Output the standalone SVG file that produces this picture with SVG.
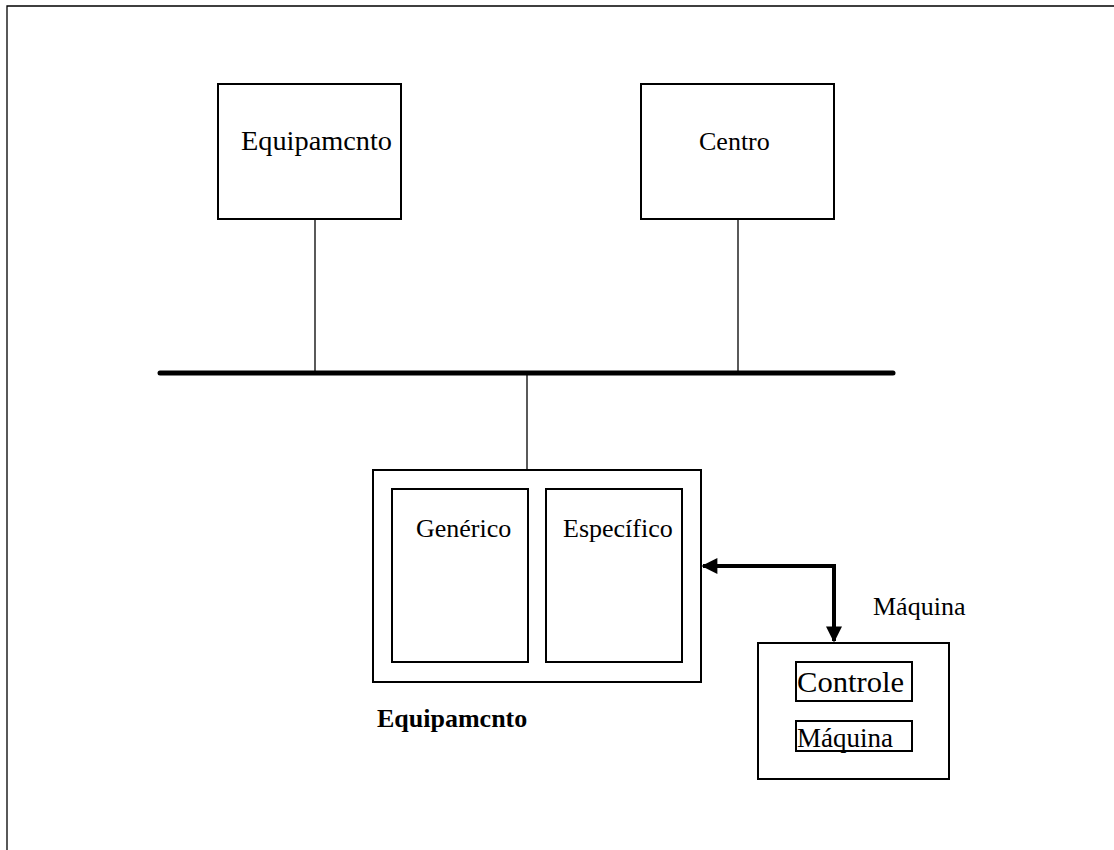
<svg xmlns="http://www.w3.org/2000/svg" width="1114" height="850" viewBox="0 0 1114 850">
<style>
.box{fill:#fff;stroke:#000;stroke-width:2}
.thin{stroke:#000;stroke-width:1.3;fill:none}
.t{font-family:"Liberation Serif","Times New Roman",serif;font-size:26px;fill:#000}
.b{font-weight:bold}
</style>
<defs>
<marker id="ah" viewBox="0 0 10 10" refX="9" refY="5" markerWidth="4.5" markerHeight="4" markerUnits="strokeWidth" orient="auto-start-reverse">
<path d="M0,0 L10,5 L0,10 z" fill="#000"/>
</marker>
</defs>
<rect width="1114" height="850" fill="#fff"/>
<g id="frame"><path d="M7,860 L7,6 L1120,6" class="thin" stroke-width="1.8"/></g>
<g id="equipamento-top"><rect x="218" y="84" width="183" height="135" class="box"/><text x="241" y="150" class="t" style="font-size:28px" textLength="151" lengthAdjust="spacingAndGlyphs">Equipamcnto</text></g>
<g id="centro"><rect x="641" y="84" width="193" height="135" class="box"/><text x="699" y="150" class="t">Centro</text></g>
<g id="equipamento"><rect x="373" y="470" width="328" height="212" class="box"/>
<text x="377" y="727" class="t b">Equipamcnto</text></g>
<g id="generico"><rect x="392" y="489" width="136" height="173" class="box"/><text x="416" y="537" class="t">Genérico</text></g>
<g id="especifico"><rect x="546" y="489" width="136" height="173" class="box"/><text x="563" y="537" class="t">Específico</text></g>
<g id="maquina-label"><text x="873" y="615" class="t">Máquina</text></g>
<g id="maquina"><rect x="758" y="643" width="191" height="136" class="box"/></g>
<g id="controle"><rect x="796" y="662" width="116" height="39" class="box"/><text x="797" y="692" class="t" style="font-size:29px" textLength="107" lengthAdjust="spacingAndGlyphs">Controle</text></g>
<g id="maquina-inner"><rect x="796" y="721" width="116" height="30" class="box"/><text x="797" y="747" class="t" style="font-size:27px">Máquina</text></g>
<g id="connectors">
<line x1="315" y1="220" x2="315" y2="373" class="thin"/>
<line x1="738" y1="220" x2="738" y2="373" class="thin"/>
<line x1="527" y1="373" x2="527" y2="470" class="thin"/>
<line x1="160" y1="373" x2="893" y2="373" stroke="#000" stroke-width="5" stroke-linecap="round"/>
<path d="M834,641 L834,566 L703,566" fill="none" stroke="#000" stroke-width="4" marker-start="url(#ah)" marker-end="url(#ah)"/>
</g>
</svg>
